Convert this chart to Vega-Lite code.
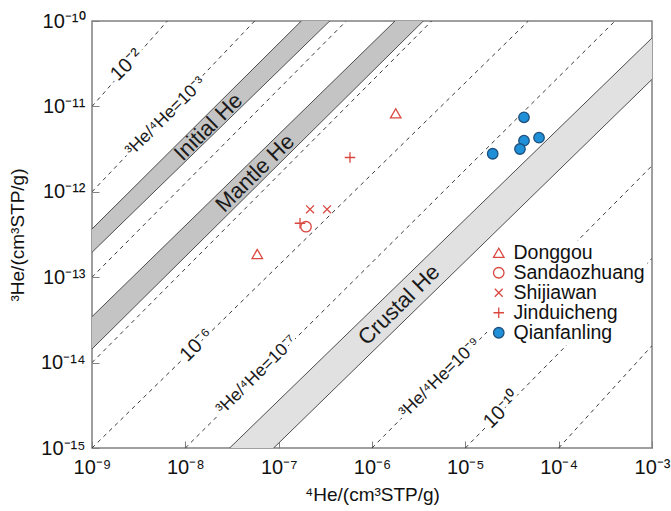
{
  "$schema": "https://vega.github.io/schema/vega-lite/v6.json",
  "width": 560,
  "height": 427,
  "autosize": {"type": "none"},
  "padding": {"left": 92, "top": 21, "right": 19, "bottom": 63},
  "background": "white",
  "config": {
    "font": "Liberation Sans",
    "view": {"stroke": "#808080", "strokeWidth": 1.5},
    "axis": {
      "domain": false,
      "grid": false,
      "tickColor": "#808080",
      "tickSize": -7,
      "labelFont": "Liberation Sans",
      "labelFontSize": 20,
      "labelColor": "#111",
      "titleFont": "Liberation Sans",
      "titleFontSize": 19,
      "titleFontWeight": "normal",
      "titleColor": "#111",
      "labelFlush": false,
      "labelOverlap": false
    },
    "legend": {
      "labelFont": "Liberation Sans",
      "labelFontSize": 19.5,
      "labelColor": "#111",
      "symbolStrokeWidth": 1.3,
      "symbolSize": 110,
      "rowPadding": -1,
      "labelOffset": 5
    }
  },
  "datasets": {
    "bands": [
      {"band": "Initial He", "x": 1e-9, "upper": 3.67e-13, "lower": 1.957e-13},
      {"band": "Initial He", "x": 4.54e-7, "upper": 2.82e-10, "lower": 1.31e-10},
      {"band": "Mantle He", "x": 1e-9, "upper": 3.45e-14, "lower": 1.443e-14},
      {"band": "Mantle He", "x": 4.18e-6, "upper": 2.51e-10, "lower": 1.195e-10},
      {"band": "Crustal He", "x": 2.35e-8, "upper": 7.76e-16, "lower": 2.44e-16},
      {"band": "Crustal He", "x": 1.218e-3, "upper": 7.8e-11, "lower": 2.56e-11}
    ],
    "ratios": [
      {"r": "1e-2", "x": 1e-9, "y": 1e-11},
      {"r": "1e-2", "x": 6.41e-9, "y": 1e-10},
      {"r": "1e-3", "x": 1e-9, "y": 1e-12},
      {"r": "1e-3", "x": 5.53e-8, "y": 1e-10},
      {"r": "1e-4", "x": 1e-9, "y": 1e-13},
      {"r": "1e-4", "x": 5.3e-7, "y": 1e-10},
      {"r": "1e-5", "x": 1e-9, "y": 1e-14},
      {"r": "1e-5", "x": 4.36e-6, "y": 1e-10},
      {"r": "1e-6", "x": 1e-9, "y": 1e-15},
      {"r": "1e-6", "x": 4.73e-5, "y": 1e-10},
      {"r": "1e-7", "x": 1e-8, "y": 1e-15},
      {"r": "1e-7", "x": 4.01e-4, "y": 1e-10},
      {"r": "1e-9", "x": 1e-6, "y": 1e-15},
      {"r": "1e-9", "x": 1e-3, "y": 2.02e-12},
      {"r": "1e-10", "x": 1e-5, "y": 1e-15},
      {"r": "1e-10", "x": 1e-3, "y": 1.66e-13},
      {"r": "1e-11", "x": 1e-4, "y": 1e-15},
      {"r": "1e-11", "x": 1e-3, "y": 1.58e-14}
    ],
    "points": [
      {"site": "Donggou", "x": 1.795e-6, "y": 8.3e-12},
      {"site": "Donggou", "x": 5.9e-8, "y": 1.87e-13},
      {"site": "Sandaozhuang", "x": 1.963e-7, "y": 3.9e-13},
      {"site": "Shijiawan", "x": 2.17e-7, "y": 6.24e-13},
      {"site": "Shijiawan", "x": 3.3e-7, "y": 6.24e-13},
      {"site": "Jinduicheng", "x": 5.81e-7, "y": 2.52e-12},
      {"site": "Jinduicheng", "x": 1.693e-7, "y": 4.28e-13},
      {"site": "Qianfanling", "x": 4.25e-5, "y": 7.45e-12},
      {"site": "Qianfanling", "x": 4.25e-5, "y": 3.97e-12},
      {"site": "Qianfanling", "x": 6.16e-5, "y": 4.3e-12},
      {"site": "Qianfanling", "x": 3.85e-5, "y": 3.17e-12},
      {"site": "Qianfanling", "x": 1.964e-5, "y": 2.79e-12}
    ],
    "bandLabels": [
      {"text": "Initial He", "x": 1.762e-8, "y": 5.74e-12},
      {"text": "Mantle He", "x": 5.58e-8, "y": 1.66e-12},
      {"text": "Crustal He", "x": 1.947e-6, "y": 4.73e-14}
    ],
    "shortLabels": [
      {"text": "10⁻²", "x": 2.353e-9, "y": 3.055e-11},
      {"text": "10⁻⁶", "x": 1.323e-8, "y": 1.607e-14},
      {"text": "10⁻¹⁰", "x": 2.47e-5, "y": 2.786e-15}
    ],
    "longLabels": [
      {"text": "³He/⁴He=10⁻³", "x": 6.16e-9, "y": 7.57e-12},
      {"text": "³He/⁴He=10⁻⁷", "x": 5.815e-8, "y": 7.16e-15},
      {"text": "³He/⁴He=10⁻⁹", "x": 5.354e-6, "y": 6.6e-15}
    ]
  },
  "layer": [
    {
      "data": {"name": "bands"},
      "mark": {"type": "area", "clip": true, "opacity": 1},
      "encoding": {
        "x": {"field": "x", "type": "quantitative", "scale": {"type": "log", "domain": [1e-9, 1e-3], "nice": false}},
        "y": {"field": "upper", "type": "quantitative", "scale": {"type": "log", "domain": [1e-15, 1e-10], "nice": false}},
        "y2": {"field": "lower"},
        "color": {"field": "band", "type": "nominal", "scale": {"domain": ["Initial He", "Mantle He", "Crustal He"], "range": ["#c4c4c4", "#c4c4c4", "#e1e1e1"]}, "legend": null}
      }
    },
    {
      "data": {"name": "bands"},
      "mark": {"type": "line", "clip": true, "color": "#4d4d4d", "strokeWidth": 1},
      "encoding": {
        "x": {"field": "x", "type": "quantitative"},
        "y": {"field": "upper", "type": "quantitative"},
        "detail": {"field": "band"}
      }
    },
    {
      "data": {"name": "bands"},
      "mark": {"type": "line", "clip": true, "color": "#4d4d4d", "strokeWidth": 1},
      "encoding": {
        "x": {"field": "x", "type": "quantitative"},
        "y": {"field": "lower", "type": "quantitative"},
        "detail": {"field": "band"}
      }
    },
    {
      "data": {"name": "ratios"},
      "mark": {"type": "line", "clip": true, "color": "#3a3a3a", "strokeWidth": 1, "strokeDash": [4, 4]},
      "encoding": {
        "x": {"field": "x", "type": "quantitative"},
        "y": {"field": "y", "type": "quantitative"},
        "detail": {"field": "r"}
      }
    },
    {
      "data": {"name": "bandLabels"},
      "mark": {"type": "text", "angle": -44.5, "fontSize": 22, "color": "#1a1a1a", "baseline": "middle", "align": "center"},
      "encoding": {
        "x": {"field": "x", "type": "quantitative"},
        "y": {"field": "y", "type": "quantitative"},
        "text": {"field": "text"}
      }
    },
    {
      "data": {"name": "shortLabels"},
      "mark": {"type": "text", "angle": -44.5, "fontSize": 20, "stroke": "white", "strokeWidth": 7, "fill": "white", "baseline": "middle", "align": "center"},
      "encoding": {
        "x": {"field": "x", "type": "quantitative"},
        "y": {"field": "y", "type": "quantitative"},
        "text": {"field": "text"}
      }
    },
    {
      "data": {"name": "shortLabels"},
      "mark": {"type": "text", "angle": -44.5, "fontSize": 20, "color": "#1a1a1a", "baseline": "middle", "align": "center"},
      "encoding": {
        "x": {"field": "x", "type": "quantitative"},
        "y": {"field": "y", "type": "quantitative"},
        "text": {"field": "text"}
      }
    },
    {
      "data": {"name": "longLabels"},
      "mark": {"type": "text", "angle": -44.5, "fontSize": 17.5, "stroke": "white", "strokeWidth": 7, "fill": "white", "baseline": "middle", "align": "center"},
      "encoding": {
        "x": {"field": "x", "type": "quantitative"},
        "y": {"field": "y", "type": "quantitative"},
        "text": {"field": "text"}
      }
    },
    {
      "data": {"name": "longLabels"},
      "mark": {"type": "text", "angle": -44.5, "fontSize": 17.5, "color": "#1a1a1a", "baseline": "middle", "align": "center"},
      "encoding": {
        "x": {"field": "x", "type": "quantitative"},
        "y": {"field": "y", "type": "quantitative"},
        "text": {"field": "text"}
      }
    },
    {
      "data": {"name": "points"},
      "mark": {"type": "point", "filled": false, "strokeWidth": 1.3, "size": 110, "opacity": 1},
      "encoding": {
        "x": {
          "field": "x", "type": "quantitative",
          "axis": {
            "title": "⁴He/(cm³STP/g)",
            "values": [1e-9, 1e-8, 1e-7, 1e-6, 1e-5, 1e-4, 1e-3],
            "labelExpr": "['10⁻⁹','10⁻⁸','10⁻⁷','10⁻⁶','10⁻⁵','10⁻⁴','10⁻³'][round(log(datum.value)/LN10)+9]",
            "labelPadding": 16,
            "titlePadding": 8
          }
        },
        "y": {
          "field": "y", "type": "quantitative",
          "axis": {
            "title": "³He/(cm³STP/g)",
            "values": [1e-15, 1e-14, 1e-13, 1e-12, 1e-11, 1e-10],
            "labelExpr": "['10⁻¹⁵','10⁻¹⁴','10⁻¹³','10⁻¹²','10⁻¹¹','10⁻¹⁰'][round(log(datum.value)/LN10)+15]",
            "labelPadding": 14,
            "titlePadding": 13
          }
        },
        "shape": {
          "field": "site", "type": "nominal",
          "scale": {
            "domain": ["Donggou", "Sandaozhuang", "Shijiawan", "Jinduicheng", "Qianfanling"],
            "range": ["triangle-up", "circle", "M-0.75,-0.75L0.75,0.75M-0.75,0.75L0.75,-0.75", "M-1,0L1,0M0,-1L0,1", "circle"]
          },
          "legend": {"title": null, "orient": "none", "legendX": 395, "legendY": 220, "padding": 2, "fillColor": "white"}
        },
        "stroke": {
          "field": "site", "type": "nominal",
          "scale": {
            "domain": ["Donggou", "Sandaozhuang", "Shijiawan", "Jinduicheng", "Qianfanling"],
            "range": ["#d9473f", "#d9473f", "#d9473f", "#d9473f", "#1d4f7c"]
          },
          "legend": {"title": null, "orient": "none", "legendX": 395, "legendY": 220, "padding": 2, "fillColor": "white"}
        },
        "fill": {
          "field": "site", "type": "nominal",
          "scale": {
            "domain": ["Donggou", "Sandaozhuang", "Shijiawan", "Jinduicheng", "Qianfanling"],
            "range": ["transparent", "transparent", "transparent", "transparent", "#1f8fd8"]
          },
          "legend": {"title": null, "orient": "none", "legendX": 395, "legendY": 220, "padding": 2, "fillColor": "white"}
        }
      }
    }
  ]
}
